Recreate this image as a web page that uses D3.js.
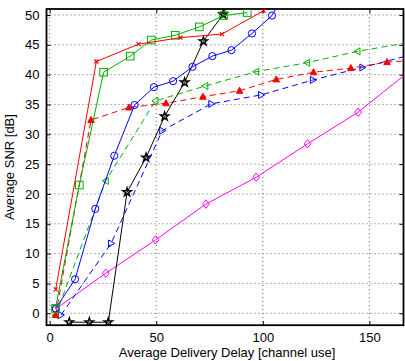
<!DOCTYPE html>
<html><head><meta charset="utf-8">
<script src="https://cdn.jsdelivr.net/npm/d3@7"></script>
<style>body{margin:0;background:#fff}svg{display:block}</style>
</head><body><svg id="c" width="405" height="361"></svg>
<script>
const xTicks = [0, 50, 100, 150];
const yTicks = [0, 5, 10, 15, 20, 25, 30, 35, 40, 45, 50];
const xLabel = "Average Delivery Delay [channel use]";
const yLabel = "Average SNR [dB]";

const redSolidX = [2.8, 21.9, 41.7, 61.3, 80.8, 100.3];
const redSolidY = [4.0, 42.2, 45.1, 46.2, 46.8, 50.7];
const greenSolidX = [2.7, 13.9, 25.3, 37.8, 47.7, 58.9, 70.2, 81.6, 92.7];
const greenSolidY = [0.8, 21.5, 40.4, 43.1, 45.8, 46.6, 48.0, 49.9, 50.4];
const blueSolidX = [2.8, 11.9, 21.4, 30.3, 39.8, 48.9, 57.9, 67.0, 76.3, 85.3, 94.9, 104.3, 109];
const blueSolidY = [0.8, 5.7, 17.5, 26.4, 34.9, 37.9, 38.9, 41.3, 43.1, 44.1, 46.9, 49.9, 53];
const blackSolidX = [9.2, 18.6, 27.5, 36.3, 45.2, 53.9, 63.3, 72.1, 81.4, 86];
const blackSolidY = [-1.5, -1.5, -1.5, 20.3, 26.1, 33.0, 38.7, 45.6, 50.1, 54];
const magentaX = [2.7, 26.3, 49.7, 73.3, 96.9, 121.0, 144.7, 172];
const magentaY = [0.7, 6.7, 12.3, 18.3, 22.8, 28.4, 33.7, 41.5];
const redDashX = [2.8, 19.4, 37.2, 54.6, 71.9, 89.1, 106.3, 123.8, 141.3, 158.3, 178];
const redDashY = [-0.3, 32.4, 34.5, 35.2, 36.3, 37.3, 39.2, 40.4, 41.1, 42.1, 42.6];
const greenDashX = [2.8, 26.3, 49.6, 73.0, 96.9, 120.8, 144.4, 180];
const greenDashY = [-0.3, 22.2, 35.6, 38.1, 40.5, 42.0, 43.9, 46.1];
const blueDashX = [5.3, 28.8, 52.8, 75.8, 99.2, 123.5, 146.7, 180];
const blueDashY = [-0.3, 11.7, 30.6, 35.1, 36.6, 39.1, 41.2, 44.3];

const series = [
  {xs: magentaX, ys: magentaY, color: "#ff00ff", dash: null, marker: "diamond"},
  {xs: blueDashX, ys: blueDashY, color: "#0000ff", dash: "6,4", marker: "triRight"},
  {xs: greenDashX, ys: greenDashY, color: "#00b000", dash: "6,4", marker: "triLeft"},
  {xs: redDashX, ys: redDashY, color: "#ff0000", dash: "6,4", marker: "triUpFill"},
  {xs: blackSolidX, ys: blackSolidY, color: "#000000", dash: null, marker: "star"},
  {xs: blueSolidX, ys: blueSolidY, color: "#0000ff", dash: null, marker: "circle"},
  {xs: greenSolidX, ys: greenSolidY, color: "#00b000", dash: null, marker: "square"},
  {xs: redSolidX, ys: redSolidY, color: "#ff0000", dash: null, marker: "x"}
];

const L = 46.5, R = 403.5, T = 9, B = 325.2;
const x = d3.scaleLinear().domain([-1.5, 166]).range([L, R]);
const y = d3.scaleLinear().domain([-2, 51]).range([B, T]);
const svg = d3.select("#c");
const font = "Liberation Sans, Arial, sans-serif";

svg.append("defs").append("clipPath").attr("id", "clip")
  .append("rect").attr("x", L).attr("y", T).attr("width", R - L).attr("height", B - T);

// grid
const grid = svg.append("g").attr("stroke", "#666").attr("stroke-width", 1).attr("stroke-dasharray", "1,3");
xTicks.forEach(t => grid.append("line").attr("x1", x(t)).attr("x2", x(t)).attr("y1", T).attr("y2", B));
yTicks.forEach(t => grid.append("line").attr("x1", L).attr("x2", R).attr("y1", y(t)).attr("y2", y(t)));

// axes
const xAxis = d3.axisBottom(x).tickValues(xTicks).tickSize(-4).tickPadding(8);
const yAxis = d3.axisLeft(y).tickValues(yTicks).tickSize(-4).tickPadding(7);
const gx = svg.append("g").attr("transform", `translate(0,${B})`).call(xAxis);
const gy = svg.append("g").attr("transform", `translate(${L},0)`).call(yAxis);
const gx2 = svg.append("g").attr("transform", `translate(0,${T})`).call(d3.axisTop(x).tickValues(xTicks).tickSize(-4).tickFormat(""));
const gy2 = svg.append("g").attr("transform", `translate(${R},0)`).call(d3.axisRight(y).tickValues(yTicks).tickSize(-4).tickFormat(""));
[gx, gy, gx2, gy2].forEach(g => {
  g.select(".domain").remove();
  g.selectAll("text").attr("font-family", font).attr("font-size", 13).attr("fill", "#000");
  g.selectAll("line").attr("stroke", "#000");
});
svg.append("rect").attr("x", L).attr("y", T).attr("width", R - L).attr("height", B - T)
  .attr("fill", "none").attr("stroke", "#000").attr("stroke-width", 1.8);

// series
const plot = svg.append("g").attr("clip-path", "url(#clip)");
function drawMarker(g, m, px, py, color) {
  if (m === "circle") g.append("circle").attr("cx", px).attr("cy", py).attr("r", 3.6).attr("fill", "none").attr("stroke", color);
  else if (m === "square") g.append("rect").attr("x", px - 3.8).attr("y", py - 3.8).attr("width", 7.6).attr("height", 7.6).attr("fill", "none").attr("stroke", color);
  else if (m === "diamond") g.append("path").attr("d", `M${px},${py-4.2}L${px+3.4},${py}L${px},${py+4.2}L${px-3.4},${py}Z`).attr("fill", "none").attr("stroke", color);
  else if (m === "triRight") g.append("path").attr("d", `M${px+3.5},${py}L${px-2.5},${py-3.5}L${px-2.5},${py+3.5}Z`).attr("fill", "none").attr("stroke", color);
  else if (m === "triLeft") g.append("path").attr("d", `M${px-3.5},${py}L${px+2.5},${py-3.5}L${px+2.5},${py+3.5}Z`).attr("fill", "none").attr("stroke", color);
  else if (m === "triUpFill") g.append("path").attr("d", `M${px},${py-3.5}L${px+3.3},${py+2.5}L${px-3.3},${py+2.5}Z`).attr("fill", color).attr("stroke", color);
  else if (m === "star") g.append("path").attr("transform", `translate(${px},${py})`).attr("d", d3.symbol(d3.symbolStar, 22)()).attr("fill", "none").attr("stroke", color).attr("stroke-width", 1.4);
  else if (m === "x") g.append("path").attr("d", `M${px-2},${py-2}L${px+2},${py+2}M${px-2},${py+2}L${px+2},${py-2}`).attr("stroke", color).attr("stroke-width", 1.2);
}
series.forEach(s => {
  const pts = s.xs.map((v, i) => [v, s.ys[i]]);
  const line = d3.line().x(d => x(d[0])).y(d => y(d[1]));
  plot.append("path").attr("d", line(pts)).attr("fill", "none").attr("stroke", s.color)
    .attr("stroke-width", 1).attr("stroke-dasharray", s.dash);
  const mg = plot.append("g");
  pts.forEach(p => drawMarker(mg, s.marker, x(p[0]), y(p[1]), s.color));
});

svg.append("text").attr("x", (L + R) / 2 + 2).attr("y", 357).attr("text-anchor", "middle")
  .attr("font-family", font).attr("font-size", 13).text(xLabel);
svg.append("text").attr("transform", `translate(14,${(T + B) / 2}) rotate(-90)`).attr("text-anchor", "middle")
  .attr("font-family", font).attr("font-size", 13).text(yLabel);
</script></body></html>
